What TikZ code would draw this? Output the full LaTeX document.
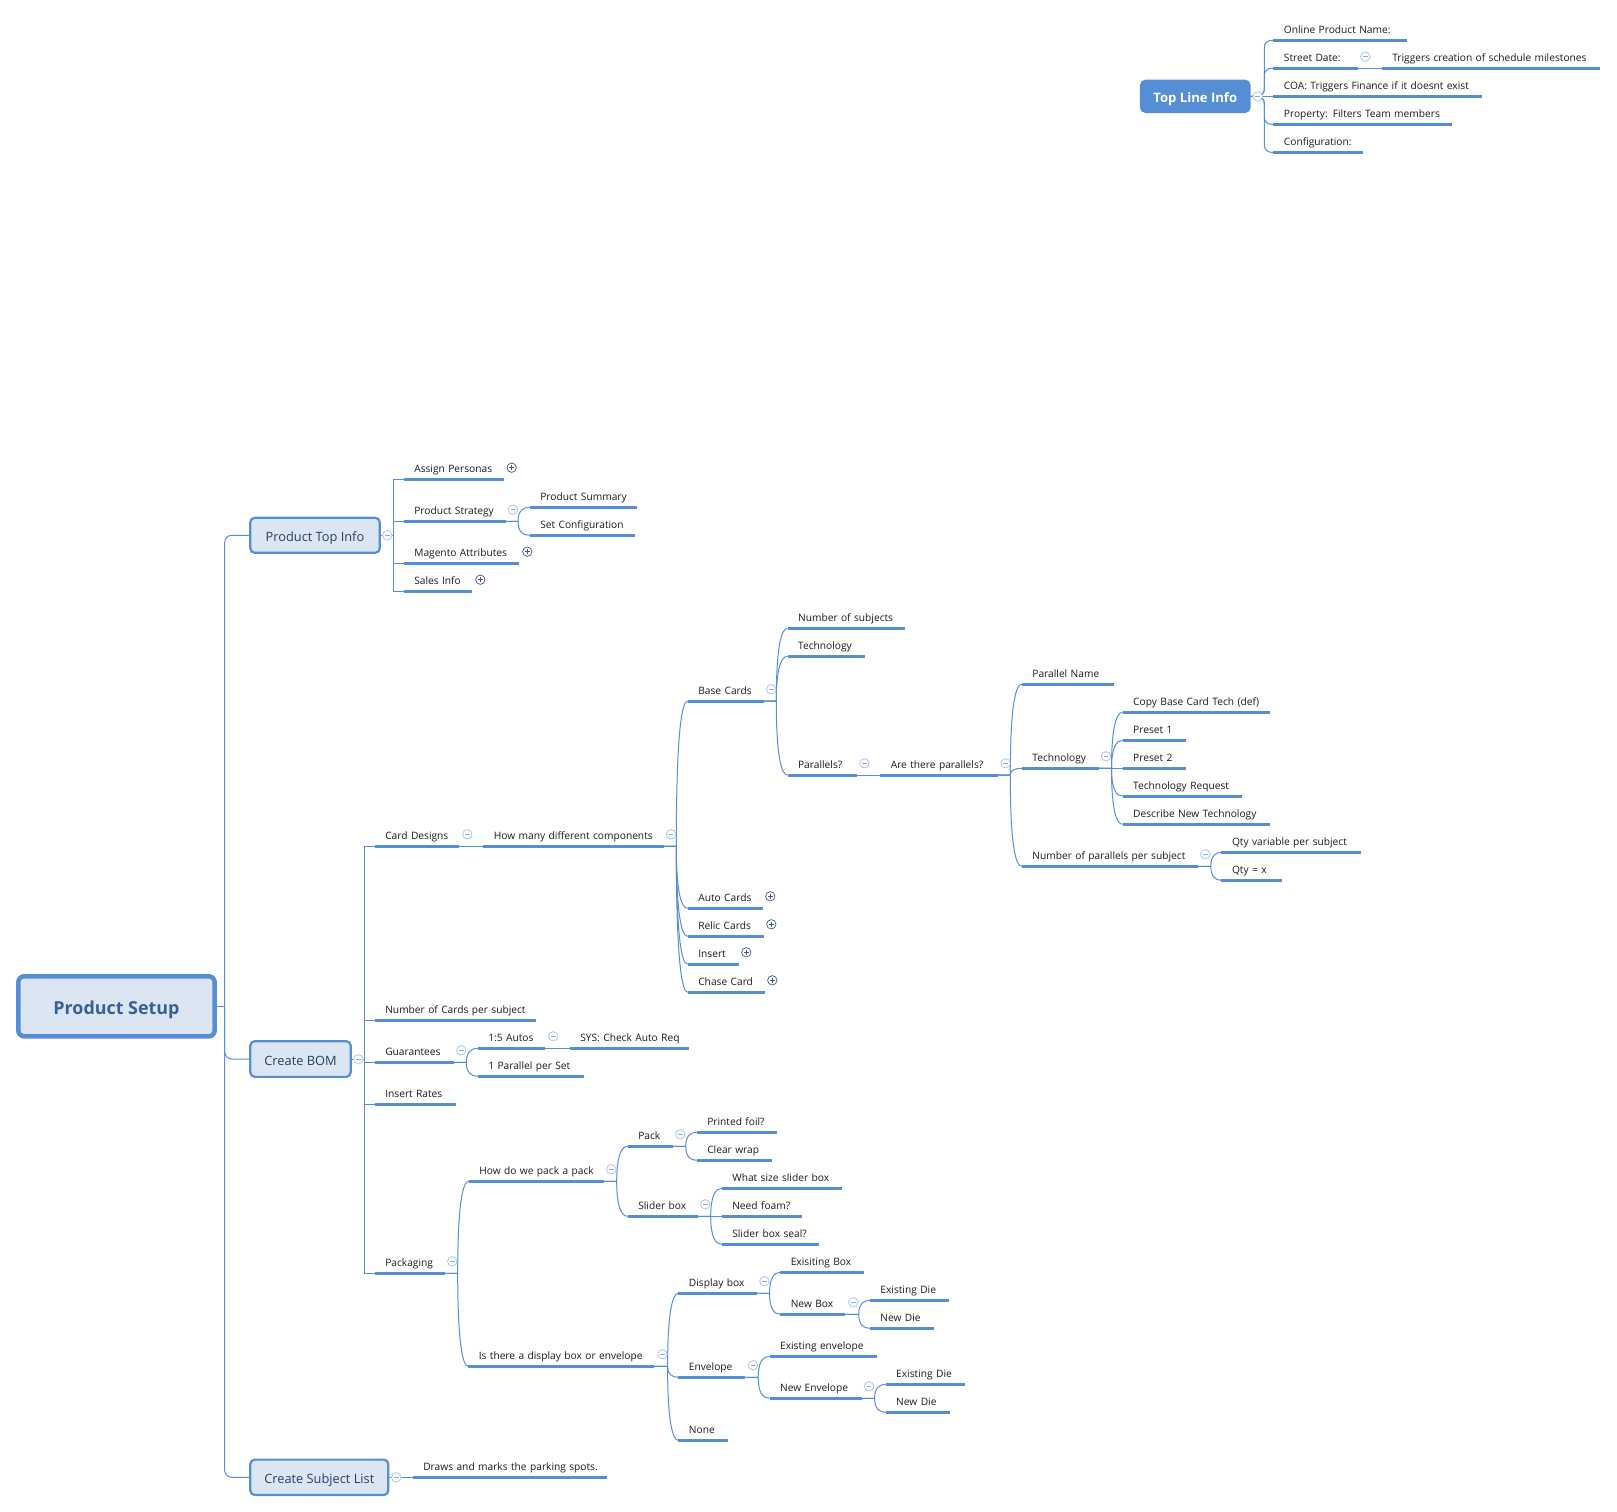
\documentclass[tikz,border=0pt]{standalone}
\usepackage{fontspec}
\setmainfont{Open Sans}
\usetikzlibrary{calc}
\definecolor{mapblue}{HTML}{558ED5}
\definecolor{boxfill}{HTML}{DCE6F2}
\definecolor{boxtext}{HTML}{254061}
\definecolor{roottext}{HTML}{376092}
\definecolor{minusc}{HTML}{B4C9EE}
\definecolor{minusd}{HTML}{8FA8D8}
\definecolor{plusc}{HTML}{3F5586}
\definecolor{inktext}{HTML}{1A1A1A}
\tikzset{
  uline/.style={draw=mapblue,line width=3pt},
  topic/.style={anchor=south west,inner xsep=0pt,inner ysep=0pt,outer sep=0pt,align=left,
    font=\fontsize{10.2pt}{12pt}\selectfont,text=inktext,text height=10pt,text depth=6.6pt,
    append after command={(\tikzlastnode.south west) edge[uline] (\tikzlastnode.south east)}},
  conn/.style={draw=mapblue,line width=1pt},
  subbox/.style={draw=mapblue,fill=boxfill,line width=2.2pt,rounded corners=4.5pt,outer sep=0pt,inner sep=0pt,
    text=boxtext,font=\fontsize{12.8pt}{15pt}\selectfont,text height=12.6pt,text depth=0pt},
  rootbox/.style={draw=mapblue,fill=boxfill,line width=4.5pt,rounded corners=6pt,outer sep=0pt,inner sep=0pt,
    text=roottext,font=\fontsize{17.9pt}{20pt}\selectfont\bfseries,text height=15.4pt,text depth=0pt},
  topbox/.style={fill=mapblue,rounded corners=5.5pt,outer sep=0pt,inner sep=0pt,
    text=white,font=\fontsize{13.1pt}{15pt}\selectfont\bfseries,text height=12pt,text depth=0pt},
  minusdot/.style={circle,draw=minusc,fill=white,line width=0.9pt,minimum size=9.4pt,inner sep=0pt,outer sep=0pt,
    path picture={\draw[draw=minusd,line width=0.8pt]
      ([xshift=2.4pt]path picture bounding box.west) -- ([xshift=-2.4pt]path picture bounding box.east);}},
  plusdot/.style={circle,draw=plusc,fill=white,line width=0.7pt,minimum size=9.4pt,inner sep=0pt,outer sep=0pt,
    path picture={\draw[draw=plusc,line width=0.7pt]
      ([xshift=2.4pt]path picture bounding box.west) -- ([xshift=-2.4pt]path picture bounding box.east)
      ([yshift=2.4pt]path picture bounding box.south) -- ([yshift=-2.4pt]path picture bounding box.north);}},
}
% name, x1, x2, y, text
\newcommand\tp[5]{\pgfmathsetmacro\tpw{#3-#2}\node[topic,text width=\tpw pt] (#1) at (#2,#4) {\hspace*{10.6pt}#5};}
% start, child, branch x : curved
\newcommand\curv[3]{\draw[conn] let \p1=#1,\p2=(#2.south west) in (\p1) -- (#3pt,\y1)
  .. controls (#3pt,{\y1+0.75*(\y2-\y1)}) and ({#3pt+5pt},\y2) .. (\p2);}
% start, child, branch x, radius
\newcommand\rnd[4]{\draw[conn,rounded corners=#4pt] let \p1=#1,\p2=(#2.south west) in (\p1) -- (#3pt,\y1) -- (#3pt,\y2) -- (\p2);}
\newcommand\sqr[3]{\draw[conn] let \p1=#1,\p2=(#2.south west) in (\p1) -- (#3pt,\y1) -- (#3pt,\y2) -- (\p2);}
\newcommand\mn[3]{\node[minusdot] (#1) at (#2,#3) {};}
\newcommand\pl[3]{\node[plusdot] (#1) at (#2,#3) {};}
\begin{document}
\begin{tikzpicture}[x=1pt,y=-1pt]
\useasboundingbox (0,0) rectangle (1617,1512);
% boxes
\node[rootbox,minimum width=196.4pt,minimum height=60.1pt] (root) at (116.5,1006.3) {Product Setup};
\node[topbox,minimum width=110.7pt,minimum height=33.4pt] (topline) at (1195.3,96.3) {Top Line Info};
\node[subbox,minimum width=129.4pt,minimum height=35pt] (ptop) at (315,535.3) {Product Top Info};
\node[subbox,minimum width=100.4pt,minimum height=35.7pt] (bom) at (300.5,1059) {Create BOM};
\node[subbox,minimum width=138pt,minimum height=35.4pt] (subj) at (319.3,1477.3) {Create Subject List};
% top line
\tp{onl}{1273.3}{1406.7}{40.3}{Online Product Name:}
\tp{street}{1273.3}{1357.7}{68.3}{Street Date:}
\tp{trig}{1381.7}{1599.7}{68.3}{Triggers creation of schedule milestones}
\tp{coa}{1273.3}{1481.7}{96.3}{COA: Triggers Finance if it doesnt exist}
\tp{prop}{1273.3}{1451.7}{124.3}{Property: Filters Team members}
\tp{conf}{1273.3}{1363.3}{152.3}{Configuration:}
% product top info
\tp{assign}{403.7}{503.7}{479.3}{Assign Personas}
\tp{strat}{403.7}{505.7}{521.3}{Product Strategy}
\tp{summ}{529.7}{636.7}{507.3}{Product Summary}
\tp{setc}{529.7}{634.7}{535.3}{Set Configuration}
\tp{mage}{403.7}{519.3}{563.3}{Magento Attributes}
\tp{sales}{403.7}{472.3}{591.3}{Sales Info}
% card designs
\tp{card}{374.7}{459.3}{846.3}{Card Designs}
\tp{howm}{483.3}{663.7}{846.3}{How many different components}
\tp{base}{687.7}{763.7}{701}{Base Cards}
\tp{nsub}{787.5}{904.7}{628.3}{Number of subjects}
\tp{tech}{787.5}{864.8}{656.3}{Technology}
\tp{para}{787.5}{856.5}{775}{Parallels?}
\tp{arep}{880.2}{997.6}{775}{Are there parallels?}
\tp{pname}{1021.8}{1113.5}{684.3}{Parallel Name}
\tp{techb}{1021.8}{1098.9}{768.3}{Technology}
\tp{copy}{1122.6}{1269.7}{712.3}{Copy Base Card Tech (def)}
\tp{pre1}{1122.6}{1185.5}{740.3}{Preset 1}
\tp{pre2}{1122.6}{1185.5}{768.3}{Preset 2}
\tp{treq}{1122.6}{1241.6}{796.3}{Technology Request}
\tp{desc}{1122.6}{1269.7}{824.3}{Describe New Technology}
\tp{npar}{1021.8}{1197.7}{866.3}{Number of parallels per subject}
\tp{qvar}{1221.4}{1360.6}{852.3}{Qty variable per subject}
\tp{qx}{1221.4}{1281.5}{880.3}{Qty = x}
\tp{auto}{687.7}{762.7}{908.3}{Auto Cards}
\tp{relic}{687.7}{763.7}{936.3}{Relic Cards}
\tp{ins}{687.7}{738.7}{964.3}{Insert}
\tp{chase}{687.7}{764.7}{992.3}{Chase Card}
% rest of bom
\tp{ncards}{374.7}{535.7}{1020.3}{Number of Cards per subject}
\tp{guar}{374.7}{453.7}{1062.3}{Guarantees}
\tp{autos}{477.7}{545.3}{1048.3}{1:5 Autos}
\tp{sys}{569.7}{688.7}{1048.3}{SYS: Check Auto Req}
\tp{ppset}{477.7}{583.7}{1076.3}{1 Parallel per Set}
\tp{irates}{374.7}{455.7}{1104.3}{Insert Rates}
\tp{pkg}{374.7}{444.7}{1273.3}{Packaging}
\tp{howp}{468.7}{603.7}{1181.3}{How do we pack a pack}
\tp{pack}{627.7}{672.7}{1146.3}{Pack}
\tp{foil}{696.7}{776.7}{1132.3}{Printed foil?}
\tp{wrap}{696.7}{771.7}{1160.3}{Clear wrap}
\tp{slider}{627.7}{697.7}{1216.3}{Slider box}
\tp{ssize}{721.7}{841.7}{1188.3}{What size slider box}
\tp{foam}{721.7}{801.7}{1216.3}{Need foam?}
\tp{seal}{721.7}{818.7}{1244.3}{Slider box seal?}
\tp{isd}{468.2}{654.2}{1366.3}{Is there a display box or envelope}
\tp{disp}{678.3}{756.5}{1293.3}{Display box}
\tp{exbox}{780.2}{863.6}{1272.3}{Exisiting Box}
\tp{nbox}{780.2}{845.3}{1314.3}{New Box}
\tp{die1}{869.8}{948.6}{1300.3}{Existing Die}
\tp{ndie1}{869.8}{933.5}{1328.3}{New Die}
\tp{env}{678.3}{745.4}{1377.3}{Envelope}
\tp{exenv}{769.5}{876.6}{1356.3}{Existing envelope}
\tp{nenv}{769.5}{861.5}{1398.3}{New Envelope}
\tp{die2}{885.6}{964.8}{1384.3}{Existing Die}
\tp{ndie2}{885.6}{949.6}{1412.3}{New Die}
\tp{none}{678.3}{727.5}{1440.3}{None}
\tp{draws}{412.7}{607.3}{1477.3}{Draws and marks the parking spots.}
% connectors: trunk
\draw[conn] let \p1=(root.east) in (\p1) -- (224.7pt,\y1);
\foreach \b in {ptop,bom,subj}{
  \draw[conn,rounded corners=7pt] let \p1=(root.east),\p2=(\b.west) in (224.7pt,\y1) -- (224.7pt,\y2) -- (\p2);
}
% top line
\rnd{(topline.east)}{onl}{1264.3}{7}
\rnd{(topline.east)}{street}{1264.3}{7}
\draw[conn] (topline.east) -- (coa.south west);
\rnd{(topline.east)}{prop}{1264.3}{7}
\rnd{(topline.east)}{conf}{1264.3}{7}
\draw[conn] (street.south east) -- (trig.south west);
% product top info
\sqr{(ptop.east)}{assign}{393.3}
\sqr{(ptop.east)}{strat}{393.3}
\sqr{(ptop.east)}{mage}{393.3}
\sqr{(ptop.east)}{sales}{393.3}
\curv{(strat.south east)}{summ}{518}
\curv{(strat.south east)}{setc}{518}
% bom
\sqr{(bom.east)}{card}{364.7}
\sqr{(bom.east)}{ncards}{364.7}
\sqr{(bom.east)}{guar}{364.7}
\sqr{(bom.east)}{irates}{364.7}
\sqr{(bom.east)}{pkg}{364.7}
\draw[conn] (card.south east) -- (howm.south west);
\foreach \c in {base,auto,relic,ins,chase}{\curv{(howm.south east)}{\c}{676.3}}
\foreach \c in {nsub,tech,para}{\curv{(base.south east)}{\c}{776.3}}
\draw[conn] (para.south east) -- (arep.south west);
\foreach \c in {pname,techb,npar}{\curv{(arep.south east)}{\c}{1010.3}}
\foreach \c in {copy,pre1,treq,desc}{\curv{(techb.south east)}{\c}{1111.5}}
\draw[conn] (techb.south east) -- (pre2.south west);
\foreach \c in {qvar,qx}{\curv{(npar.south east)}{\c}{1210.8}}
\foreach \c in {autos,ppset}{\curv{(guar.south east)}{\c}{466.3}}
\draw[conn] (autos.south east) -- (sys.south west);
\foreach \c in {howp,isd}{\curv{(pkg.south east)}{\c}{457.7}}
\foreach \c in {pack,slider}{\curv{(howp.south east)}{\c}{616.7}}
\foreach \c in {foil,wrap}{\curv{(pack.south east)}{\c}{685.7}}
\foreach \c in {ssize,seal}{\curv{(slider.south east)}{\c}{710.7}}
\draw[conn] (slider.south east) -- (foam.south west);
\foreach \c in {disp,env,none}{\curv{(isd.south east)}{\c}{667.6}}
\foreach \c in {exbox,nbox}{\curv{(disp.south east)}{\c}{769.5}}
\foreach \c in {die1,ndie1}{\curv{(nbox.south east)}{\c}{858.7}}
\foreach \c in {exenv,nenv}{\curv{(env.south east)}{\c}{758.2}}
\foreach \c in {die2,ndie2}{\curv{(nenv.south east)}{\c}{874.6}}
\draw[conn] (subj.east) -- (draws.south west);
% collapse markers
\mn{mtop}{1257.7}{96.5}
\mn{mstreet}{1365.3}{56.7}
\mn{mptop}{387.3}{535.3}
\mn{mstrat}{513}{509.7}
\mn{mbom}{358.3}{1059.3}
\mn{mcard}{467.3}{834.3}
\mn{mhowm}{671}{834.3}
\mn{mbase}{771.3}{689.3}
\mn{mpara}{864.4}{763.3}
\mn{marep}{1005.6}{763.3}
\mn{mtechb}{1106}{756.3}
\mn{mnpar}{1205.2}{854.3}
\mn{mguar}{461.3}{1050.3}
\mn{mautos}{553.3}{1036.3}
\mn{mpkg}{452.3}{1261.3}
\mn{mhowp}{611.3}{1169.3}
\mn{mpack}{680.3}{1134.3}
\mn{mslider}{705.3}{1204.3}
\mn{misd}{662.5}{1354.3}
\mn{mdisp}{764.4}{1281.3}
\mn{mnbox}{853.2}{1302.3}
\mn{menv}{753}{1365.3}
\mn{mnenv}{869}{1386.3}
\mn{msubj}{396.3}{1477.3}
\pl{passign}{511.7}{467.7}
\pl{pmage}{527.3}{551.7}
\pl{psales}{480.3}{579.7}
\pl{pauto}{770.3}{896.3}
\pl{prelic}{771.3}{924.3}
\pl{pins}{746.3}{952.3}
\pl{pchase}{772.3}{980.3}
\end{tikzpicture}
\end{document}
